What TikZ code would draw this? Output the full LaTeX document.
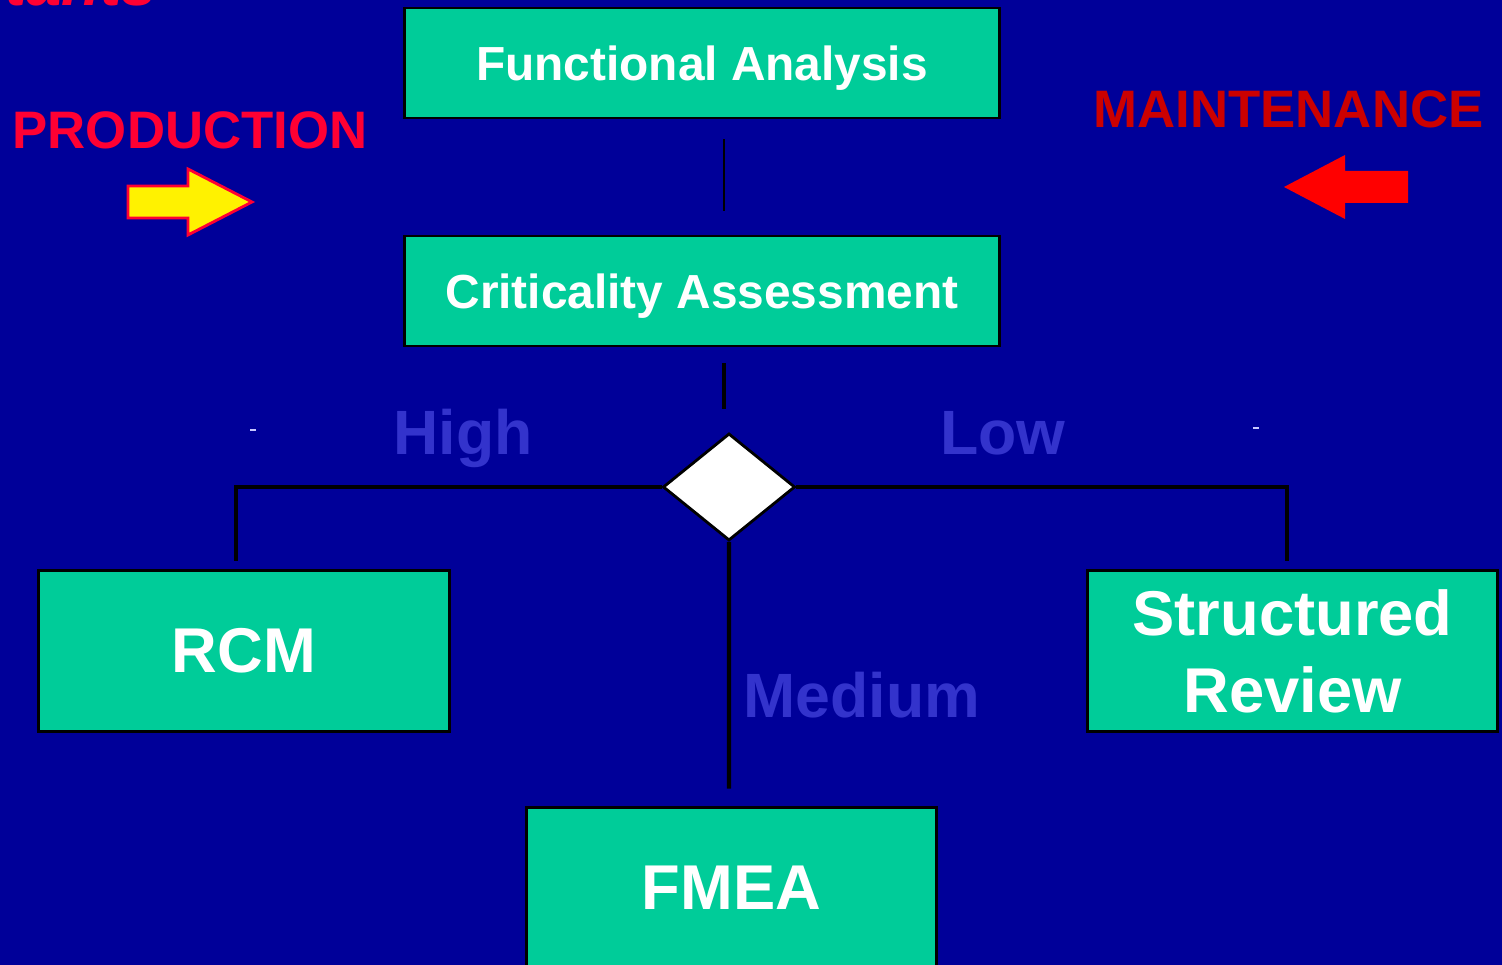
\documentclass[tikz,border=0pt]{standalone}
\usepackage{fontspec}
\setmainfont{Liberation Sans}
\usetikzlibrary{shapes.geometric}
\definecolor{bgblue}{RGB}{0,0,153}
\definecolor{boxteal}{RGB}{0,204,153}
\definecolor{lblblue}{RGB}{51,51,204}
\definecolor{prodred}{RGB}{255,0,51}
\definecolor{mntred}{RGB}{204,0,0}
\definecolor{dashblue}{RGB}{200,200,255}
\tikzset{
  tealbox/.style={draw=black, line width=0.8pt, fill=boxteal, text=white, font=\bfseries, inner sep=0pt, align=center},
  smallbox/.style={tealbox, minimum width=5.94cm, minimum height=1.10cm, text depth=0pt, font=\bfseries\fontsize{13.6}{16}\selectfont},
  bigbox/.style={tealbox, minimum width=4.10cm, minimum height=1.61cm, font=\bfseries\fontsize{18}{21.9}\selectfont},
  branchlabel/.style={text=lblblue, font=\bfseries\fontsize{17.8}{20}\selectfont, inner sep=0pt, anchor=base},
  thinline/.style={draw=black, line width=0.7pt},
  thickline/.style={draw=black, line width=1.2pt},
  headline/.style={inner sep=0pt, anchor=base west, font=\bfseries\fontsize{15}{18}\selectfont}
}
\begin{document}
\begin{tikzpicture}[x=0.01cm,y=-0.01cm]
\useasboundingbox (0,0) rectangle (1502,965);
\fill[bgblue] (0,0) rectangle (1502,965);

% cut-off heading at top left
\node[anchor=base east, inner sep=0pt, text=prodred, font=\bfseries\itshape\fontsize{18}{20}\selectfont] (cut) at (157,6) {ntants};

% side headings
\node[headline, text=prodred] (prod) at (12,149) {PRODUCTION};
\node[headline, text=mntred] (mnt) at (1093,128) {MAINTENANCE};

% arrows
\draw[fill=yellow, draw=prodred, line width=0.8pt, line join=miter]
  (128,186) -- (188,186) -- (188,169) -- (252,202) -- (188,235) -- (188,218) -- (128,218) -- cycle;
\fill[red] (1284,187) -- (1345,155) -- (1345,171) -- (1408,171) -- (1408,203) -- (1345,203) -- (1345,219) -- cycle;

% boxes
\node[smallbox] (fa) at (702,63) {Functional Analysis};
\node[smallbox] (ca) at (702,291) {Criticality Assessment};
\node[draw=black, line width=0.8pt, fill=white, shape=diamond, inner sep=0pt, minimum width=1.32cm, minimum height=1.07cm] (dec) at (729,487) {};
\node[bigbox] (rcm) at (244,651) {RCM};
\node[bigbox] (sr) at (1292.5,651) {Structured\\Review};
\node[bigbox] (fmea) at (731.5,888) {FMEA};

% connectors
\draw[thinline, shorten <=0.2cm, shorten >=0.24cm] ([xshift=0.22cm]fa.south) -- ([xshift=0.22cm]ca.north);
\draw[thickline, shorten <=0.16cm, shorten >=0.23cm] ([xshift=0.22cm]ca.south) -- ([xshift=0.22cm]ca.south |- dec.north);
\draw[thickline] (dec.west) -| ([xshift=-0.08cm, yshift=0.085cm]rcm.north);
\draw[thickline] (dec.east) -| ([xshift=-0.055cm, yshift=0.085cm]sr.north);
\draw[thickline] (dec.south) -- ([xshift=-0.025cm, yshift=0.175cm]fmea.north);

% branch labels
\node[branchlabel] (high) at (463,455) {High};
\node[branchlabel] (low) at (1003,455) {Low};
\node[branchlabel] (med) at (862,718) {Medium};

% tiny dashes
\draw[dashblue, line width=0.4pt] (250,430) -- (256,430);
\draw[dashblue, line width=0.4pt] (1253,428) -- (1259,428);
\end{tikzpicture}
\end{document}
